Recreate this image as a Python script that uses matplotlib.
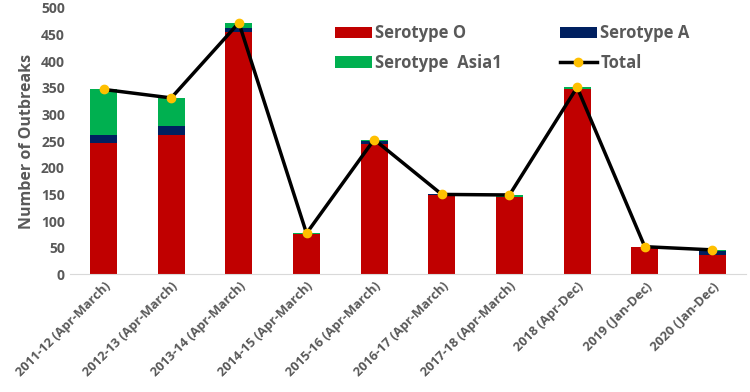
import numpy as np
import matplotlib.pyplot as plt

periods = ["2011-12 (Apr-March)", "2012-13 (Apr-March)", "2013-14 (Apr-March)",
           "2014-15 (Apr-March)", "2015-16 (Apr-March)", "2016-17 (Apr-March)",
           "2017-18 (Apr-March)", "2018 (Apr-Dec)", "2019 (Jan-Dec)", "2020 (Jan-Dec)"]
serotype_o = [246, 262, 455, 75, 244, 149, 146, 347, 51, 37]
serotype_a = [16, 16, 7, 0, 7, 1, 0, 0, 1, 7]
serotype_asia1 = [85, 53, 10, 2, 2, 0, 3, 4, 0, 2]
total = [347, 331, 472, 77, 253, 150, 149, 351, 52, 46]

plt.rcParams['font.family'] = ['Open Sans', 'DejaVu Sans']
gray = "#595959"

fig, ax = plt.subplots(figsize=(7.5, 3.92), dpi=100)
fig.subplots_adjust(left=0.093, right=0.995, top=0.98, bottom=0.30)

x = np.arange(len(periods))
w = 0.4
o = np.array(serotype_o)
a = np.array(serotype_a)
b_o = ax.bar(x, o, w, color="#C00000", label="Serotype O")
b_a = ax.bar(x, a, w, bottom=o, color="#002060", label="Serotype A")
b_asia = ax.bar(x, serotype_asia1, w, bottom=o + a, color="#00B050", label="Serotype  Asia1")
ln, = ax.plot(x, total, color="black", lw=2.5, marker="o", ms=6,
              mfc="#FFC000", mec="#FFC000", label="Total", zorder=5)

ax.set_ylim(0, 500)
ax.set_xlim(-0.5, len(periods) - 0.5)
ax.set_yticks(range(0, 501, 50))
ax.set_ylabel("Number of Outbreaks", color=gray, fontsize=11.5, fontweight="bold")
ax.set_xticks(x)
ax.set_xticklabels(periods, rotation=45, ha="right", rotation_mode="anchor",
                   fontsize=9.3, fontweight="bold", color=gray)
for lab in ax.get_yticklabels():
    lab.set_fontweight("bold")
    lab.set_color(gray)
    lab.set_fontsize(10)
ax.tick_params(length=0)
ax.tick_params(axis="x", pad=4)
for s in ["top", "right", "left"]:
    ax.spines[s].set_visible(False)
ax.spines["bottom"].set_color("#D9D9D9")

# column-major fill, so order to read O, A / Asia1, Total across rows
ax.legend([b_o, b_asia, b_a, ln],
          ["Serotype O", "Serotype  Asia1", "Serotype A", "Total"],
          loc="upper left", bbox_to_anchor=(0.37, 0.995), ncol=2, frameon=False,
          prop={"weight": "bold", "size": 12}, labelcolor=gray,
          columnspacing=3.5, handlelength=2.2, handletextpad=0.2, labelspacing=0.7)

fig.savefig("out.png")
